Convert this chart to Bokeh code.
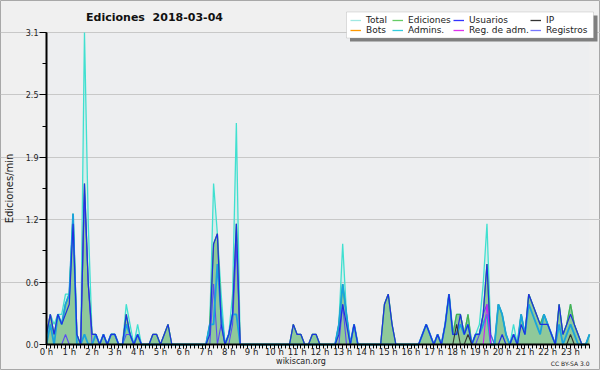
from bokeh.plotting import figure
from bokeh.models import (FixedTicker, Legend, LegendItem, Label, BoxAnnotation, Range1d)
from bokeh.embed import file_html
from bokeh.resources import INLINE

# ---------------- data (edits per minute, 10-minute bins, 2018-03-04) ----------------
hours = list(range(24))
hour_labels = [f"{h} h" for h in hours]
bins_per_hour = 6
y_ticks = [0.0, 0.62, 1.24, 1.86, 2.48, 3.1]
y_tick_labels = ["0.0", "0.6", "1.2", "1.9", "2.5", "3.1"]

total = [
    0.1, 0.3, 0.2, 0.3, 0.3, 0.5,   # 0 h
    0.5, 1.3, 0.1, 0.0, 3.1, 1.2,   # 1 h
    0.1, 0.1, 0.0, 0.1, 0.0, 0.1,   # 2 h
    0.1, 0.0, 0.0, 0.4, 0.2, 0.0,   # 3 h
    0.2, 0.0, 0.0, 0.0, 0.1, 0.1,   # 4 h
    0.0, 0.1, 0.2, 0.0, 0.0, 0.0,   # 5 h
    0.0, 0.0, 0.0, 0.0, 0.0, 0.0,   # 6 h
    0.0, 0.2, 1.6, 1.1, 0.5, 0.0,   # 7 h
    0.1, 0.5, 2.2, 0.0, 0.0, 0.0,   # 8 h
    0.0, 0.0, 0.0, 0.0, 0.0, 0.0,   # 9 h
    0.0, 0.0, 0.0, 0.0, 0.0, 0.2,   # 10 h
    0.1, 0.1, 0.0, 0.0, 0.1, 0.1,   # 11 h
    0.0, 0.0, 0.0, 0.0, 0.0, 0.2,   # 12 h
    1.0, 0.3, 0.0, 0.2, 0.0, 0.0,   # 13 h
    0.0, 0.0, 0.0, 0.0, 0.0, 0.4,   # 14 h
    0.5, 0.2, 0.0, 0.0, 0.0, 0.0,   # 15 h
    0.0, 0.0, 0.0, 0.1, 0.2, 0.1,   # 16 h
    0.0, 0.1, 0.0, 0.2, 0.5, 0.1,   # 17 h
    0.3, 0.3, 0.1, 0.3, 0.0, 0.1,   # 18 h
    0.2, 0.6, 1.2, 0.1, 0.0, 0.4,   # 19 h
    0.3, 0.1, 0.0, 0.2, 0.0, 0.3,   # 20 h
    0.1, 0.5, 0.4, 0.3, 0.2, 0.3,   # 21 h
    0.2, 0.1, 0.0, 0.4, 0.1, 0.2,   # 22 h
    0.4, 0.2, 0.1, 0.0, 0.0, 0.1,   # 23 h
]

ediciones = [
    0.1, 0.3, 0.1, 0.3, 0.2, 0.4,
    0.5, 1.3, 0.1, 0.0, 1.6, 0.6,
    0.1, 0.1, 0.0, 0.1, 0.0, 0.1,
    0.1, 0.0, 0.0, 0.3, 0.1, 0.0,
    0.1, 0.0, 0.0, 0.0, 0.1, 0.1,
    0.0, 0.1, 0.2, 0.0, 0.0, 0.0,
    0.0, 0.0, 0.0, 0.0, 0.0, 0.0,
    0.0, 0.2, 1.0, 1.1, 0.3, 0.0,
    0.1, 0.3, 1.2, 0.0, 0.0, 0.0,
    0.0, 0.0, 0.0, 0.0, 0.0, 0.0,
    0.0, 0.0, 0.0, 0.0, 0.0, 0.2,
    0.1, 0.1, 0.0, 0.0, 0.1, 0.1,
    0.0, 0.0, 0.0, 0.0, 0.0, 0.2,
    0.6, 0.3, 0.0, 0.2, 0.0, 0.0,
    0.0, 0.0, 0.0, 0.0, 0.0, 0.4,
    0.5, 0.2, 0.0, 0.0, 0.0, 0.0,
    0.0, 0.0, 0.0, 0.1, 0.2, 0.1,
    0.0, 0.1, 0.0, 0.2, 0.5, 0.1,
    0.3, 0.3, 0.1, 0.3, 0.0, 0.1,
    0.1, 0.3, 0.8, 0.0, 0.0, 0.4,
    0.3, 0.1, 0.0, 0.1, 0.0, 0.3,
    0.1, 0.5, 0.4, 0.3, 0.2, 0.3,
    0.2, 0.1, 0.0, 0.4, 0.1, 0.2,
    0.4, 0.2, 0.1, 0.0, 0.0, 0.1,
]

usuarios = [
    0.1, 0.3, 0.1, 0.3, 0.2, 0.3,
    0.4, 1.2, 0.1, 0.0, 1.6, 0.6,
    0.1, 0.1, 0.0, 0.1, 0.0, 0.1,
    0.1, 0.0, 0.0, 0.3, 0.1, 0.0,
    0.1, 0.0, 0.0, 0.0, 0.1, 0.1,
    0.0, 0.1, 0.2, 0.0, 0.0, 0.0,
    0.0, 0.0, 0.0, 0.0, 0.0, 0.0,
    0.0, 0.1, 1.0, 1.1, 0.2, 0.0,
    0.1, 0.3, 1.2, 0.0, 0.0, 0.0,
    0.0, 0.0, 0.0, 0.0, 0.0, 0.0,
    0.0, 0.0, 0.0, 0.0, 0.0, 0.2,
    0.1, 0.1, 0.0, 0.0, 0.1, 0.1,
    0.0, 0.0, 0.0, 0.0, 0.0, 0.1,
    0.4, 0.2, 0.0, 0.2, 0.0, 0.0,
    0.0, 0.0, 0.0, 0.0, 0.0, 0.4,
    0.5, 0.2, 0.0, 0.0, 0.0, 0.0,
    0.0, 0.0, 0.0, 0.1, 0.2, 0.1,
    0.0, 0.1, 0.0, 0.2, 0.5, 0.1,
    0.1, 0.3, 0.1, 0.2, 0.0, 0.1,
    0.1, 0.3, 0.8, 0.0, 0.0, 0.0,
    0.1, 0.0, 0.0, 0.1, 0.0, 0.2,
    0.1, 0.5, 0.4, 0.3, 0.2, 0.2,
    0.2, 0.1, 0.0, 0.4, 0.1, 0.2,
    0.3, 0.2, 0.1, 0.0, 0.0, 0.0,
]

ip = [0.0] * 108 + [0.2, 0.0, 0.0, 0.1] + [0.0] * 26 + [0.1] + [0.0] * 5

bots = [0.0] * 144

admins = [
    0.0, 0.2, 0.0, 0.3, 0.2, 0.4,
    0.5, 1.3, 0.0, 0.0, 0.1, 0.0,
    0.0, 0.1, 0.0, 0.1, 0.0, 0.1,
    0.1, 0.0, 0.0, 0.2, 0.1, 0.0,
    0.1, 0.0, 0.0, 0.0, 0.0, 0.0,
    0.0, 0.0, 0.0, 0.0, 0.0, 0.0,
    0.0, 0.0, 0.0, 0.0, 0.0, 0.0,
    0.0, 0.2, 0.2, 0.8, 0.3, 0.0,
    0.1, 0.3, 0.3, 0.0, 0.0, 0.0,
    0.0, 0.0, 0.0, 0.0, 0.0, 0.0,
    0.0, 0.0, 0.0, 0.0, 0.0, 0.0,
    0.0, 0.0, 0.0, 0.0, 0.0, 0.0,
    0.0, 0.0, 0.0, 0.0, 0.0, 0.2,
    0.6, 0.3, 0.0, 0.2, 0.0, 0.0,
    0.0, 0.0, 0.0, 0.0, 0.0, 0.0,
    0.0, 0.0, 0.0, 0.0, 0.0, 0.0,
    0.0, 0.0, 0.0, 0.1, 0.2, 0.1,
    0.0, 0.1, 0.0, 0.2, 0.5, 0.1,
    0.1, 0.2, 0.1, 0.2, 0.0, 0.1,
    0.1, 0.2, 0.3, 0.0, 0.0, 0.4,
    0.3, 0.1, 0.0, 0.1, 0.0, 0.3,
    0.1, 0.4, 0.3, 0.2, 0.1, 0.3,
    0.2, 0.1, 0.0, 0.2, 0.0, 0.1,
    0.2, 0.1, 0.0, 0.0, 0.0, 0.1,
]

reg_adm = [0.0] * 116 + [0.4] + [0.0] * 27

registros = [
    0.0, 0.0, 0.0, 0.0, 0.0, 0.1,
    0.0, 0.0, 0.0, 0.0, 1.5, 0.6,
    0.0, 0.0, 0.0, 0.0, 0.0, 0.0,
    0.0, 0.0, 0.0, 0.1, 0.1, 0.0,
    0.1, 0.0, 0.0, 0.0, 0.0, 0.0,
    0.0, 0.0, 0.0, 0.0, 0.0, 0.0,
    0.0, 0.0, 0.0, 0.0, 0.0, 0.0,
    0.0, 0.0, 0.6, 0.0, 0.2, 0.0,
    0.0, 0.2, 1.0, 0.0, 0.0, 0.0,
    0.0, 0.0, 0.0, 0.0, 0.0, 0.0,
    0.0, 0.0, 0.0, 0.0, 0.0, 0.0,
    0.0, 0.0, 0.0, 0.0, 0.0, 0.0,
    0.0, 0.0, 0.0, 0.0, 0.0, 0.0,
    0.4, 0.0, 0.0, 0.0, 0.0, 0.0,
    0.0, 0.0, 0.0, 0.0, 0.0, 0.0,
    0.0, 0.0, 0.0, 0.0, 0.0, 0.0,
    0.0, 0.0, 0.0, 0.0, 0.0, 0.0,
    0.0, 0.0, 0.0, 0.0, 0.0, 0.0,
    0.0, 0.0, 0.0, 0.0, 0.0, 0.0,
    0.1, 0.3, 0.4, 0.1, 0.0, 0.0,
    0.0, 0.0, 0.0, 0.1, 0.0, 0.0,
    0.0, 0.0, 0.0, 0.0, 0.0, 0.0,
    0.0, 0.0, 0.0, 0.0, 0.0, 0.0,
    0.0, 0.0, 0.0, 0.0, 0.0, 0.0,
]

# time axis in hours (one point per 10-minute bin)
x = [i / bins_per_hour for i in range(len(total))]
X_END = x[-1]
Y_END = max(total)

# ---------------- layout: frame covers the whole canvas ----------------
W, H = 600, 370
PL, PR, PT, PB = 46, 589, 32, 344          # pixel box of the data area
sx = (PR - PL) / X_END
sy = (PB - PT) / Y_END
x_range = Range1d(-PL / sx, X_END + (W - PR) / sx)
y_range = Range1d(-(H - PB) / sy, Y_END + PT / sy)

FONT = "DejaVu Sans"

p = figure(width=W, height=H, output_backend="svg", toolbar_location=None,
           x_range=x_range, y_range=y_range,
           min_border=0, min_border_left=0, min_border_right=0,
           min_border_top=0, min_border_bottom=0)
p.background_fill_color = "#f0f0f0"
p.border_fill_color = "#f0f0f0"
p.outline_line_color = "#a8a8a8"
p.outline_line_width = 1

# plot-area background
p.add_layout(BoxAnnotation(left=0, right=X_END, bottom=0, top=Y_END,
                           fill_color="#edeef0", fill_alpha=1, line_color=None, level="image"))

# areas
p.varea(x=x, y1=0, y2=total, fill_color="#40e0d0", fill_alpha=0.12)
p.varea(x=x, y1=0, y2=ediciones, fill_color="#8fc99a", fill_alpha=1.0)

# lines
p.line(x, total, line_color="#40e0d0", line_width=1.3)
p.line(x, ediciones, line_color="#4caf50", line_width=1.3)
p.line(x, registros, line_color="#5b4cf0", line_width=1.1)
p.line(x, admins, line_color="#1aa3dd", line_width=1.8)
p.line(x, usuarios, line_color="#2030e0", line_width=1.2)
p.line(x, ip, line_color="#333333", line_width=1.1)
p.line(x, reg_adm, line_color="#cc22ee", line_width=1.1)
p.line(x, bots, line_color="#ff9900", line_width=1.1)

# axes (fixed inside the frame)
p.xaxis.fixed_location = 0
p.yaxis.fixed_location = 0
p.xaxis.bounds = (0, X_END)
p.yaxis.bounds = (0, Y_END)
p.xaxis.ticker = FixedTicker(ticks=hours, minor_ticks=x)
p.xaxis.major_label_overrides = {h: lab for h, lab in zip(hours, hour_labels)}
p.yaxis.ticker = FixedTicker(ticks=y_ticks,
                             minor_ticks=[(a + b) / 2 for a, b in zip(y_ticks[:-1], y_ticks[1:])] + y_ticks)
p.yaxis.major_label_overrides = {t: lab for t, lab in zip(y_ticks, y_tick_labels)}

for ax in (p.xaxis[0], p.yaxis[0]):
    ax.axis_line_width = 2
    ax.axis_line_color = "black"
    ax.major_tick_in = 0
    ax.minor_tick_in = 0
    ax.major_tick_line_color = "black"
    ax.minor_tick_line_color = "black"
    ax.major_label_text_font = FONT
    ax.major_label_text_color = "#222222"

p.xaxis.major_tick_out = 4
p.xaxis.minor_tick_out = 4
p.xaxis.major_label_text_font_size = "8.5px"
p.xaxis.major_label_standoff = -2
p.yaxis.major_tick_out = 7
p.yaxis.minor_tick_out = 4
p.yaxis.major_label_text_font_size = "8px"
p.yaxis.major_label_standoff = 1
p.yaxis.axis_label = "Ediciones/min"
p.yaxis.axis_label_text_font = FONT
p.yaxis.axis_label_text_font_size = "10px"
p.yaxis.axis_label_text_font_style = "normal"
p.yaxis.axis_label_text_color = "#222222"
p.yaxis.axis_label_standoff = 8

p.xgrid.visible = False
p.ygrid.ticker = FixedTicker(ticks=y_ticks[1:])
p.ygrid.bounds = (0, X_END)
p.ygrid.grid_line_color = "#c8c8c8"

# legend box with shadow
box_kw = dict(left_units="canvas", right_units="canvas", top_units="canvas", bottom_units="canvas")
p.add_layout(BoxAnnotation(left=349.5, right=597, top=15, bottom=41,
                           fill_color="#7f7f7f", fill_alpha=1, line_color=None, **box_kw))
p.add_layout(BoxAnnotation(left=346, right=593, top=11.5, bottom=37.5,
                           fill_color="white", fill_alpha=1, line_color="#999999",
                           line_width=1, **box_kw))

# legend, laid out as 4 columns of 2 rows (dummy off-range renderers carry the legend colours)
leg_names = ["Total", "Ediciones", "Usuarios", "IP", "Bots", "Admins.", "Reg. de adm.", "Registros"]
leg_colors = ["#9fe8e2", "#66cc66", "#3333ff", "#333333", "#ff9900", "#33ccdd", "#dd33ee", "#7777ff"]
leg_col_x = [350, 392, 453, 530]
far = X_END * 10
renderers = [p.line([far, far + 1], [0, 0], line_color=c, line_width=1.3) for c in leg_colors]
for col in range(4):
    its = [LegendItem(label=leg_names[col], renderers=[renderers[col]]),
           LegendItem(label=leg_names[col + 4], renderers=[renderers[col + 4]])]
    lg = Legend(items=its, location=(leg_col_x[col], H - 34.5), orientation="vertical",
                label_text_font=FONT, label_text_font_size="9px", label_text_color="#222222",
                label_height=10, glyph_height=10, glyph_width=11, label_standoff=5,
                spacing=0, padding=0, margin=0,
                background_fill_alpha=0, border_line_alpha=0)
    p.add_layout(lg, "center")

# texts
p.add_layout(Label(x=154, y=17, x_units="canvas", y_units="canvas",
                   text="Ediciones\u00a0 2018-03-04", text_align="center", text_baseline="middle",
                   text_font=FONT, text_font_size="11px", text_font_style="bold",
                   text_color="#111111"))
p.add_layout(Label(x=300.5, y=361, x_units="canvas", y_units="canvas",
                   text="wikiscan.org", text_align="center", text_baseline="middle",
                   text_font=FONT, text_font_size="8px", text_color="#222222"))
p.add_layout(Label(x=589, y=362.5, x_units="canvas", y_units="canvas",
                   text="CC BY-SA 3.0", text_align="right", text_baseline="middle",
                   text_font=FONT, text_font_size="6px", text_color="#222222"))

open("out.html", "w").write(file_html(p, INLINE))
